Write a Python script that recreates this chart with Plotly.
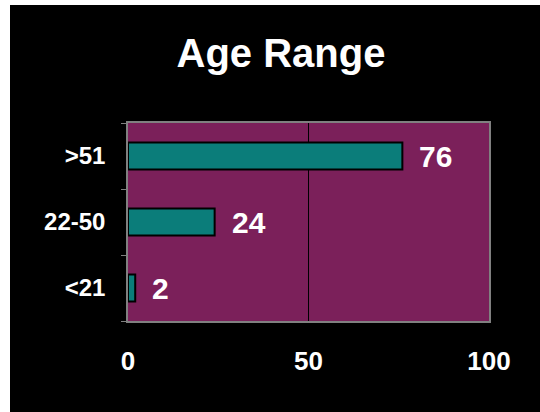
import plotly.graph_objects as go

categories = ["<21", "22-50", ">51"]
values = [2, 24, 76]
x_ticks = [0, 50, 100]
title_text = "Age Range"

FONT = "Liberation Sans, Arial, sans-serif"
W, H = 540, 412
ML, MR, MT, MB = 128, 51, 123, 91
PW, PH = W - ML - MR, H - MT - MB

def px_x(p):
    return (p - ML) / PW

def px_y(p):
    return (H - MB - p) / PH

fig = go.Figure()
fig.add_trace(go.Bar(
    x=values, y=categories, orientation="h",
    width=0.41,
    marker=dict(color="#0B7D7A", line=dict(color="black", width=2)),
    hoverinfo="skip",
))

for c, v in zip(categories, values):
    fig.add_annotation(x=v, y=c, xref="x", yref="y", text=str(v),
                       showarrow=False, xanchor="left", yanchor="middle",
                       xshift=15,
                       font=dict(family=FONT, size=30, color="white", weight="bold"))

fig.add_shape(type="rect", xref="paper", yref="paper",
              x0=px_x(0), x1=px_x(10), y0=px_y(H), y1=px_y(0),
              fillcolor="white", line=dict(width=0), layer="below")
fig.add_shape(type="rect", xref="paper", yref="paper",
              x0=px_x(0), x1=px_x(W), y0=px_y(5), y1=px_y(0),
              fillcolor="white", line=dict(width=0), layer="below")

fig.update_layout(
    width=W, height=H,
    margin=dict(l=ML, r=MR, t=MT, b=MB, pad=0),
    paper_bgcolor="black",
    plot_bgcolor="#7B205A",
    showlegend=False,
    title=dict(text=title_text, x=281 / W, xref="container", xanchor="center",
               y=1 - 53 / H, yref="container", yanchor="middle",
               font=dict(family=FONT, size=40, color="white", weight="bold")),
    xaxis=dict(range=[0, 100], tickvals=x_ticks, ticktext=[str(t) for t in x_ticks],
               showgrid=True, gridcolor="black", gridwidth=1,
               showline=True, linecolor="#808080", linewidth=1.5, mirror=True,
               ticks="", ticklabelstandoff=16, zeroline=False,
               tickfont=dict(family=FONT, size=26, color="white", weight="bold"),
               fixedrange=True),
    yaxis=dict(categoryorder="array", categoryarray=categories,
               showgrid=False, showline=True, linecolor="#808080", linewidth=1.5,
               mirror=True, ticks="outside", tickson="boundaries", ticklen=5,
               tickcolor="#808080", ticklabelstandoff=16,
               tickfont=dict(family=FONT, size=24, color="white", weight="bold"),
               fixedrange=True),
)

fig.write_html("out.html", config={"displayModeBar": False},
               post_script="document.body.style.margin='0';document.body.style.overflow='hidden';")
